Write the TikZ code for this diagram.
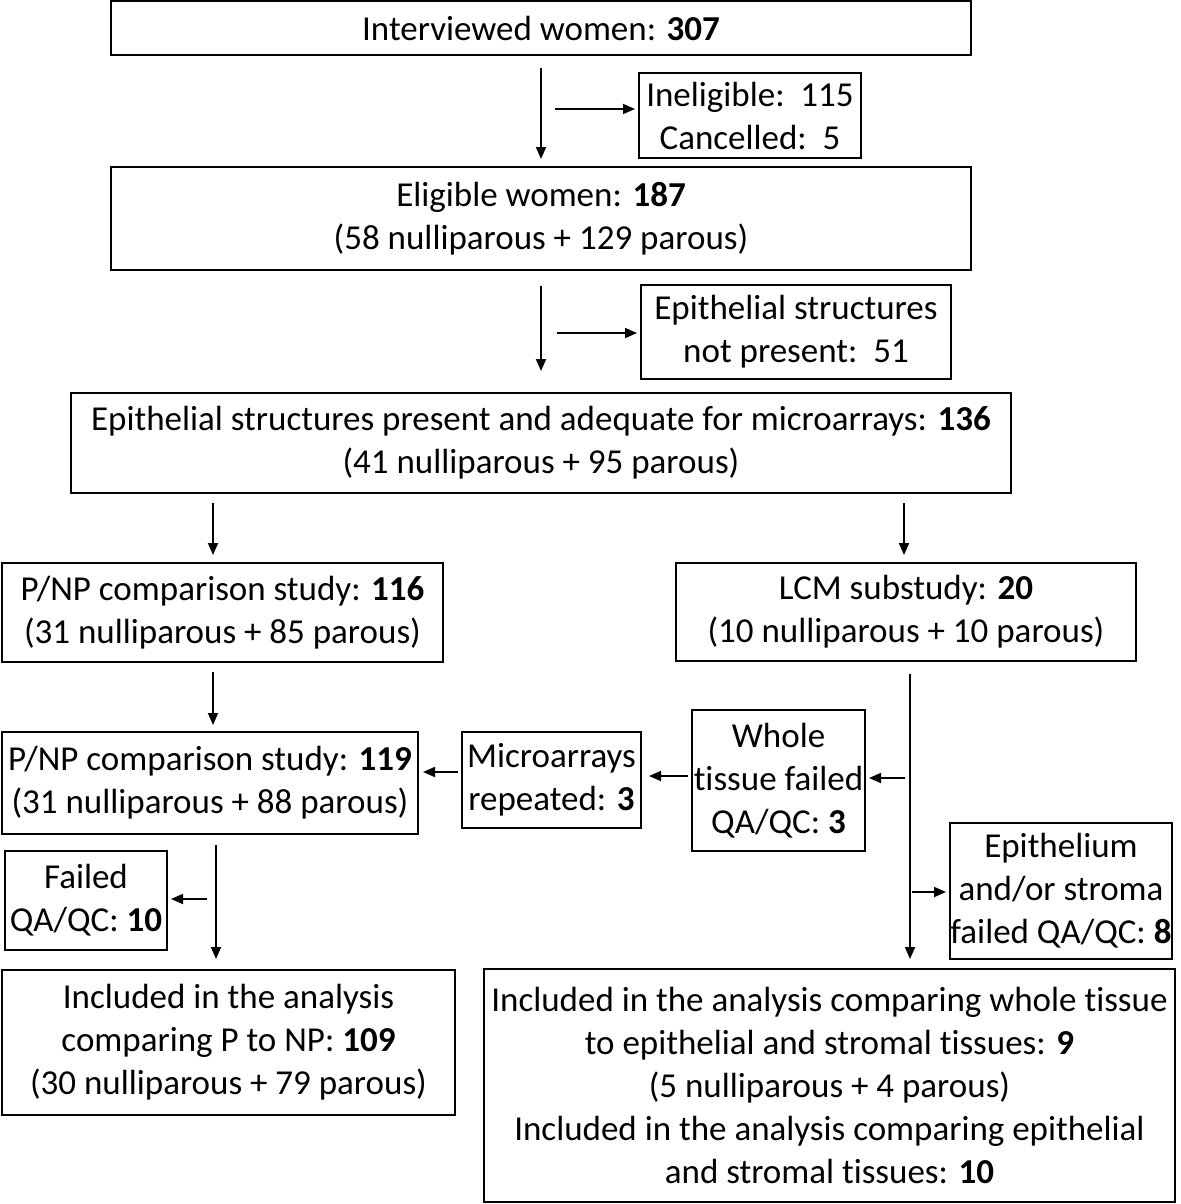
\documentclass[tikz,border=0pt]{standalone}
\usepackage{fontspec}
\setmainfont{Carlito}[Ligatures=NoCommon]
\usetikzlibrary{arrows.meta}
\begin{document}
\begin{tikzpicture}[x=0.5pt,y=-0.5pt,
  box/.style={draw, line width=1pt, inner sep=0pt, align=center,
    font=\fontsize{17.5pt}{21.5pt}\selectfont},
  arr/.style={line width=0.9pt, -{Triangle[length=6pt,width=5pt]}}]
\useasboundingbox (0,0) rectangle (1181,1204);
\node[box, minimum width=430pt, minimum height=27pt] (n1) at (541,28) {Interviewed women: \textbf{307}};
\node[box, minimum width=111pt, minimum height=42.5pt] (n2) at (750,115.5) {Ineligible:\ \ 115\\Cancelled:\ \ 5};
\node[box, minimum width=430pt, minimum height=51.5pt] (n3) at (541,218.5) {Eligible women: \textbf{187}\\(58 nulliparous + 129 parous)};
\node[box, minimum width=155pt, minimum height=47pt] (n4) at (796,332) {Epithelial structures\\not present:\ \ 51};
\node[box, minimum width=470pt, minimum height=50pt] (n5) at (541,443) {Epithelial structures present and adequate for microarrays: \textbf{136}\\(41 nulliparous + 95 parous)};
\node[box, minimum width=220.5pt, minimum height=49.5pt] (n6) at (222.5,612.5) {P/NP comparison study: \textbf{116}\\(31 nulliparous + 85 parous)};
\node[box, minimum width=230pt, minimum height=49pt] (n7) at (906,612) {LCM substudy: \textbf{20}\\(10 nulliparous + 10 parous)};
\node[box, minimum width=208pt, minimum height=51pt] (n8) at (210,783) {P/NP comparison study: \textbf{119}\\(31 nulliparous + 88 parous)};
\node[box, minimum width=89.5pt, minimum height=48pt] (n9) at (551.5,780) {Microarrays\\repeated: \textbf{3}};
\node[box, minimum width=86.5pt, minimum height=70.5pt] (n10) at (778.5,780.5) {Whole\\tissue failed\\QA/QC: \textbf{3}};
\node[box, minimum width=111pt, minimum height=68pt] (n11) at (1061,891) {Epithelium\\and/or stroma\\failed QA/QC: \textbf{8}};
\node[box, minimum width=81pt, minimum height=49.5pt] (n12) at (86,900.5) {Failed\\QA/QC: \textbf{10}};
\node[box, minimum width=226.5pt, minimum height=72.5pt] (n13) at (228.5,1042.5) {Included in the analysis\\comparing P to NP: \textbf{109}\\(30 nulliparous + 79 parous)};
\node[box, minimum width=345.5pt, minimum height=116.5pt] (n14) at (829.5,1085.5) {Included in the analysis comparing whole tissue\\to epithelial and stromal tissues: \textbf{9}\\(5 nulliparous + 4 parous)\\Included in the analysis comparing epithelial\\and stromal tissues: \textbf{10}};
% connectors
\draw[arr, shorten <=6pt, shorten >=3.5pt] (n1.south) -- (n3.north);
\coordinate (h1) at (555,109);
\draw[arr, shorten >=1.5pt] (h1) -- (h1 -| n2.west);
\draw[arr, shorten <=7.5pt, shorten >=10.5pt] (n3.south) -- (n5.north);
\coordinate (h2) at (557,333);
\draw[arr, shorten >=1.5pt] (h2) -- (h2 -| n4.west);
\coordinate (v3) at (213,503);
\draw[arr, shorten >=3.5pt] (v3) -- (v3 |- n6.north);
\coordinate (v4) at (904,503);
\draw[arr, shorten >=3.5pt] (v4) -- (v4 |- n7.north);
\coordinate (v5) at (213,672);
\draw[arr, shorten >=3pt] (v5) -- (v5 |- n8.north);
\coordinate (v6) at (910,674);
\draw[arr, shorten >=4.5pt] (v6) -- (v6 |- n14.north);
\coordinate (h3) at (905,778);
\draw[arr, shorten >=1.5pt] (h3) -- (h3 -| n10.east);
\coordinate (h4) at (688,776);
\draw[arr, shorten >=3.5pt] (h4) -- (h4 -| n9.east);
\coordinate (h5) at (458,772);
\draw[arr, shorten >=2pt] (h5) -- (h5 -| n8.east);
\coordinate (h6) at (912,892);
\draw[arr, shorten >=1.5pt] (h6) -- (h6 -| n11.west);
\coordinate (v7) at (216,845);
\draw[arr, shorten >=5pt] (v7) -- (v7 |- n13.north);
\coordinate (h7) at (207,899);
\draw[arr, shorten >=1.5pt] (h7) -- (h7 -| n12.east);
\end{tikzpicture}
\end{document}
